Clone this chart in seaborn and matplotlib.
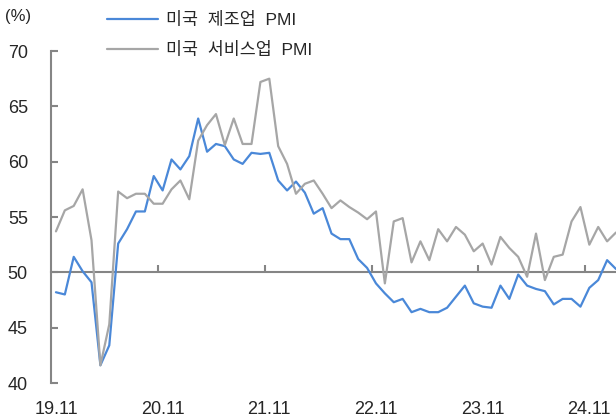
import matplotlib
matplotlib.use("Agg")
import matplotlib.pyplot as plt
import seaborn as sns
import pandas as pd

# monthly, 2019.11 ~ 2025.02
months = pd.period_range("2019-11", "2025-02", freq="M")
month_labels = [p.strftime("%y.%m") for p in months]

mfg_pmi = [48.2, 48.0, 51.4, 50.1, 49.1, 41.6, 43.4, 52.6, 53.9, 55.5,
           55.5, 58.7, 57.4, 60.2, 59.3, 60.5, 63.9, 60.9, 61.6, 61.4,
           60.2, 59.8, 60.8, 60.7, 60.8, 58.3, 57.4, 58.2, 57.2, 55.3,
           55.8, 53.5, 53.0, 53.0, 51.2, 50.4, 49.0, 48.1, 47.3, 47.6,
           46.4, 46.7, 46.4, 46.4, 46.8, 47.8, 48.8, 47.2, 46.9, 46.8,
           48.8, 47.6, 49.8, 48.8, 48.5, 48.3, 47.1, 47.6, 47.6, 46.9,
           48.6, 49.3, 51.1, 50.3]
svc_pmi = [53.7, 55.6, 56.0, 57.5, 52.9, 41.6, 45.3, 57.3, 56.7, 57.1,
           57.1, 56.2, 56.2, 57.5, 58.3, 56.6, 61.9, 63.3, 64.3, 61.5,
           63.9, 61.6, 61.6, 67.2, 67.5, 61.4, 59.8, 57.1, 58.0, 58.3,
           57.1, 55.8, 56.5, 55.9, 55.4, 54.8, 55.5, 49.0, 54.6, 54.9,
           50.9, 52.8, 51.1, 53.9, 52.8, 54.1, 53.4, 51.9, 52.6, 50.7,
           53.2, 52.2, 51.4, 49.6, 53.5, 49.3, 51.4, 51.6, 54.6, 55.9,
           52.5, 54.1, 52.8, 53.6]

series_names = ["미국  제조업  PMI", "미국  서비스업  PMI"]
colors = ["#4a88d8", "#a6a6a6"]
axis_color = "#858585"
text_color = "#262626"

df = pd.DataFrame({
    "idx": list(range(len(months))) * 2,
    "value": mfg_pmi + svc_pmi,
    "series": [series_names[0]] * len(months) + [series_names[1]] * len(months),
})

sns.set_style("white")
plt.rcParams["font.family"] = ["Liberation Sans", "Noto Sans CJK KR"]

fig = plt.figure(figsize=(6.16, 4.18), dpi=100)
ax = fig.add_axes([51.5 / 616, 35 / 418, 564.5 / 616, 332 / 418])

sns.lineplot(data=df, x="idx", y="value", hue="series", palette=colors,
             linewidth=1.6, ax=ax)

ax.set_xlim(-0.5, len(months) - 1)
ax.set_ylim(40, 70)
ax.set_yticks(range(40, 71, 5))
ax.tick_params(axis="y", direction="in", length=5, width=1.5, color=axis_color,
               labelsize=13, labelcolor=text_color, pad=17, left=True)

label_pos = list(range(0, len(months), 12))
ax.set_xticks(label_pos)
ax.set_xticklabels([month_labels[i] for i in label_pos])
ax.tick_params(axis="x", length=0, labelsize=13, labelcolor=text_color, pad=13)
ax.set_xlabel("")
ax.set_ylabel("")

for s in ["top", "right", "bottom"]:
    ax.spines[s].set_visible(False)
ax.spines["left"].set_color(axis_color)
ax.spines["left"].set_linewidth(1.5)

# category axis crossing at 50, with tick marks between years
sec = ax.secondary_xaxis((50 - 40) / (70 - 40))
sec.set_xticks([p - 0.5 for p in label_pos[1:]])
sec.set_xticklabels([])
sec.tick_params(direction="in", length=5, width=1.5, color=axis_color)
sec.spines["bottom"].set_color(axis_color)
sec.spines["bottom"].set_linewidth(1.5)

handles, labels = ax.get_legend_handles_labels()
ax.legend(handles, labels, loc="upper left", bbox_to_anchor=(107 / 616, 0.972),
          bbox_transform=fig.transFigure, frameon=False, fontsize=12.5,
          handlelength=2.95, handletextpad=0.45, labelspacing=0.8,
          borderpad=0, borderaxespad=0, labelcolor=text_color)

fig.text(5 / 616, 1 - 17 / 418, "(%)", fontsize=12, color=text_color,
         ha="left", va="center")

fig.savefig("out.png", dpi=100)
